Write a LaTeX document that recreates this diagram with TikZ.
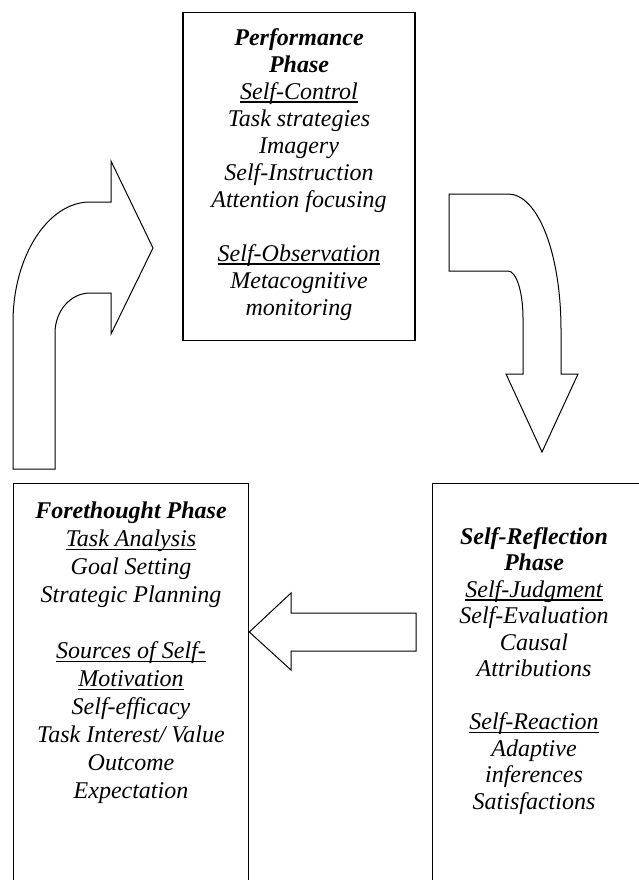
\documentclass[tikz,border=0pt]{standalone}
\usepackage{fontspec}
\setmainfont{Liberation Serif}
\newcommand\undl[1]{\leavevmode\setbox0=\hbox{#1}\rlap{\rule[-3.5pt]{\wd0}{1.2pt}}\box0}
\begin{document}
\begin{tikzpicture}[x=1pt,y=-1pt,line join=miter,
  phasebox/.style={draw,line width=1.3pt,rectangle,inner sep=0pt},
  blockarrow/.style={draw,line width=1pt,fill=white},
  txt/.style={font=\fontsize{24}{27}\selectfont\itshape,align=center,inner sep=0pt,anchor=north}]
\useasboundingbox (0,0) rectangle (639,880);
\clip (0,0) rectangle (639,880);
% boxes
\node[phasebox,minimum width=232pt,minimum height=328pt,anchor=north] (perfbox) at (299,12) {};
\node[phasebox,minimum width=235pt,minimum height=500pt,anchor=north west] (forebox) at (13,483) {};
\node[phasebox,minimum width=230pt,minimum height=500pt,anchor=north west] (reflbox) at (432,483) {};
% texts
\node[txt] (perftxt) at (299,28) {\textbf{Performance}\\ \textbf{Phase}\\ \undl{Self-Control}\\ Task strategies\\ Imagery\\ Self-Instruction\\ Attention focusing\\ ~\\ \undl{Self-Observation}\\ Metacognitive\\ monitoring};
\node[txt,font=\fontsize{24}{28}\selectfont\itshape] (foretxt) at (131,502) {\textbf{Forethought Phase}\\ \undl{Task Analysis}\\ Goal Setting\\ Strategic Planning\\ ~\\ \undl{Sources of Self-}\\ \undl{Motivation}\\ Self-efficacy\\ Task Interest/ Value\\ Outcome\\ Expectation};
\node[txt,font=\fontsize{24}{26.5}\selectfont\itshape] (refltxt) at (534,527) {\textbf{Self-Reflection}\\ \textbf{Phase}\\ \undl{Self-Judgment}\\ Self-Evaluation\\ Causal\\ Attributions\\ ~\\ \undl{Self-Reaction}\\ Adaptive\\ inferences\\ Satisfactions};
% left curved arrow (forethought -> performance)
\draw[blockarrow] (13,469) -- (13,322) .. controls (13,257) and (47.5,202) .. (90,202)
  -- (111,202) -- (111,161) -- (153,248) -- (111,334) -- (111,293) -- (90,293)
  .. controls (70.7,293) and (55,310.9) .. (55,333) -- (55,469) -- cycle;
% right curved arrow (performance -> self-reflection)
\draw[blockarrow] (449,194) -- (508,194) .. controls (538,194) and (561,253.5) .. (561,330)
  -- (561,374) -- (578,374) -- (542,452) -- (506,374) -- (523,374) -- (523,318)
  .. controls (523,292) and (516.4,271) .. (508,271) -- (449,271) -- cycle;
% bottom arrow (self-reflection -> forethought)
\draw[blockarrow] (forebox.east |- 0,632) -- (291,593) -- (291,613) -- (416,613) -- (416,651)
  -- (291,651) -- (291,670) -- cycle;
\end{tikzpicture}
\end{document}
